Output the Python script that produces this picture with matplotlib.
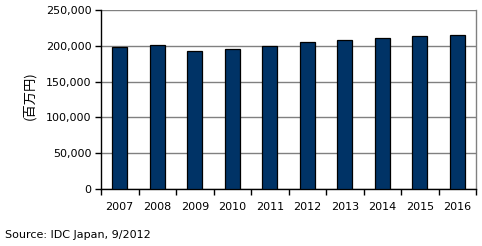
import matplotlib
matplotlib.use("Agg")
import matplotlib.pyplot as plt
from matplotlib.ticker import FuncFormatter

years = ["2007", "2008", "2009", "2010", "2011", "2012", "2013", "2014", "2015", "2016"]
values = [198500, 201400, 193000, 195800, 200200, 205600, 208400, 211100, 213900, 215300]
yticks = [0, 50000, 100000, 150000, 200000, 250000]

W, H = 482, 246
fig = plt.figure(figsize=(W / 100, H / 100), dpi=100)
left, right, top, bottom = 101, 476, 10, 189
ax = fig.add_axes([left / W, 1 - bottom / H, (right - left) / W, (bottom - top) / H])

x = list(range(len(years)))
ax.bar(x, values, width=0.4, color="#003366", edgecolor="black", linewidth=0.9, zorder=3)
ax.set_xlim(-0.5, len(years) - 0.5)
ax.set_ylim(0, 250000)
ax.set_yticks(yticks)
ax.yaxis.set_major_formatter(FuncFormatter(lambda v, p: f"{int(v):,}"))
ax.set_xticks([i - 0.5 for i in range(len(years) + 1)])
ax.set_xticklabels([])
ax.set_xticks(x, minor=True)
ax.set_xticklabels(years, minor=True)
ax.tick_params(axis="x", which="major", length=4, width=1, color="black", direction="out")
ax.tick_params(axis="x", which="minor", length=0, pad=9, labelsize=8)
ax.tick_params(axis="y", length=4, width=1, direction="out", labelsize=8, pad=3)
ax.grid(axis="y", color="#808080", linewidth=1, zorder=0)
for s in ["left", "bottom"]:
    ax.spines[s].set_color("black")
    ax.spines[s].set_linewidth(1)
for s in ["right", "top"]:
    ax.spines[s].set_color("#808080")
    ax.spines[s].set_linewidth(1)
ax.spines["top"].set_visible(False)

fig.text(30 / W, 1 - 96 / H, "(百万円)", rotation=90, ha="center", va="center",
         fontsize=9.5, family=["Noto Sans CJK JP", "DejaVu Sans"])
fig.text(5 / W, 1 - 235 / H, "Source: IDC Japan, 9/2012", ha="left", va="center", fontsize=8)

fig.savefig("out.png", dpi=100)
